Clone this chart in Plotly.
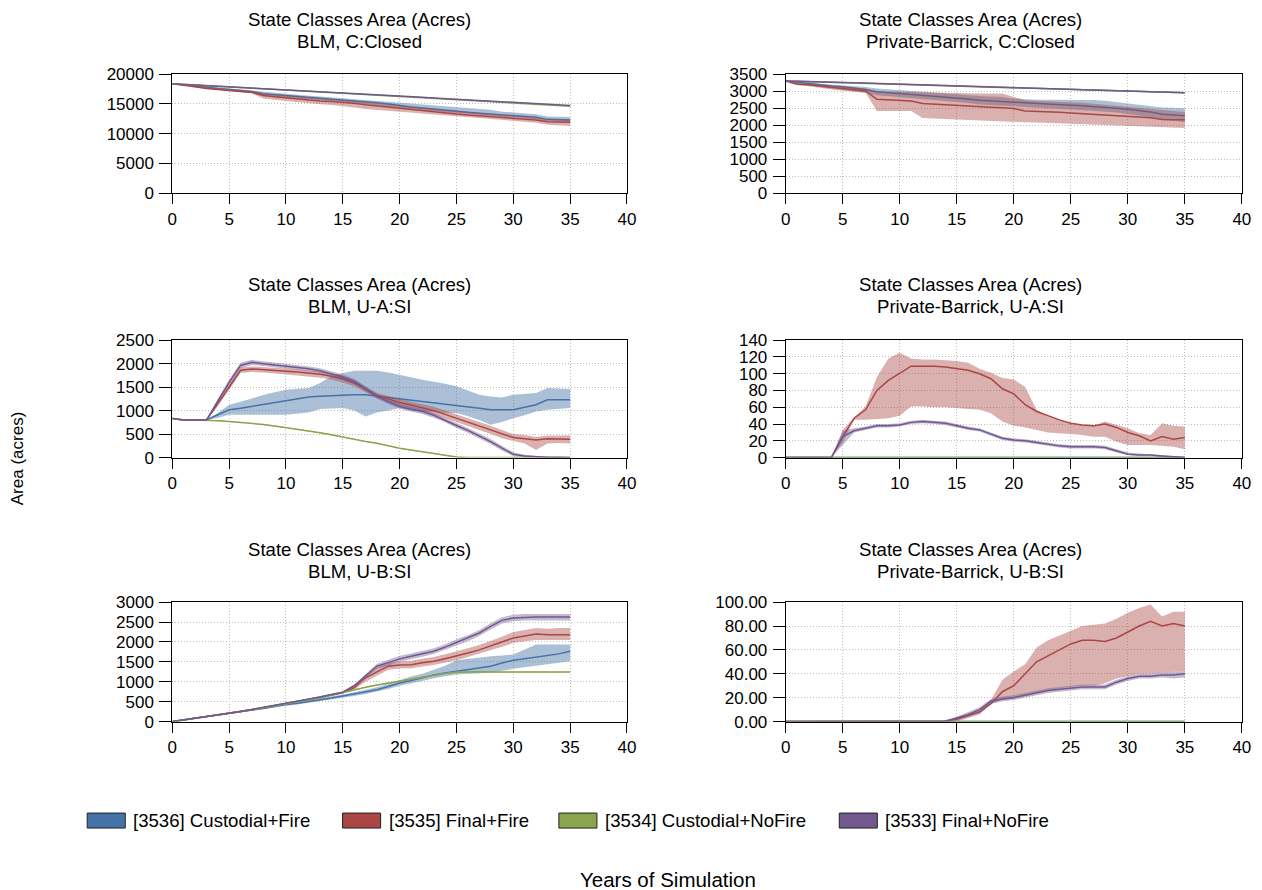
import plotly.graph_objects as go

W, H = 1262, 900
YEARS = list(range(36))

SERIES_NAMES = ["[3536] Custodial+Fire", "[3535] Final+Fire", "[3534] Custodial+NoFire", "[3533] Final+NoFire"]
SERIES_COLORS = ["#4572A7", "#AA4643", "#89A54E", "#71588F"]
BAND_COLORS = ["rgba(69,114,167,0.45)", "rgba(170,70,67,0.42)", "rgba(137,165,78,0.45)", "rgba(113,88,143,0.42)"]

ZEROS = [0] * 36

# ---------------- Panel A: BLM, C:Closed ----------------
A_blue_mean = [18400,18250,18050,17850,17600,17400,17250,17100,16700,16550,16450,16300,16150,16000,15850,15750,15600,15400,15200,15000,14700,14500,14300,14100,13900,13750,13600,13450,13300,13150,13000,12900,12750,12400,12350,12300]
A_blue_lo = [18400,18150,17900,17650,17400,17200,17000,16850,16350,16200,16100,15950,15800,15650,15500,15400,15250,15050,14850,14650,14350,14150,13950,13750,13550,13400,13250,13100,12950,12800,12650,12550,12400,12050,12000,11950]
A_blue_hi = [18400,18350,18200,18000,17800,17600,17450,17300,17000,16850,16700,16550,16400,16250,16100,16000,15850,15700,15550,15400,15250,15050,14900,14750,14600,14450,14300,14150,14000,13700,13550,13400,13250,12900,12850,12800]
A_red_mean = [18400,18200,17900,17600,17400,17250,17100,16950,16400,16200,16000,15800,15650,15500,15400,15300,15100,14850,14650,14450,14200,14000,13800,13600,13450,13300,13150,13000,12850,12700,12600,12450,12300,12000,11950,11900]
A_red_lo = [18400,18100,17750,17450,17250,17100,16950,16750,15900,15700,15500,15300,15100,14950,14800,14650,14400,14150,13950,13800,13600,13450,13300,13150,13000,12850,12700,12550,12400,12250,12150,12000,11850,11500,11400,11300]
A_red_hi = [18400,18300,18050,17800,17600,17450,17300,17150,16800,16600,16400,16250,16100,15950,15800,15700,15500,15300,15100,14900,14700,14500,14300,14100,13950,13800,13650,13500,13350,13200,13050,12900,12750,12400,12350,12300]
A_green_mean = [18400,18290,18180,18070,17970,17860,17750,17640,17530,17420,17310,17210,17100,16990,16880,16770,16660,16560,16450,16340,16230,16120,16010,15900,15800,15690,15580,15470,15360,15250,15150,15040,14930,14820,14710,14600]
A_green_lo = [18400,18250,18140,18030,17930,17820,17710,17600,17490,17380,17270,17170,17060,16950,16840,16730,16620,16520,16410,16300,16190,16080,15970,15860,15760,15650,15540,15430,15320,15210,15110,15000,14890,14780,14670,14560]
A_green_hi = [18400,18330,18220,18110,18010,17900,17790,17680,17570,17460,17350,17250,17140,17030,16920,16810,16700,16600,16490,16380,16270,16160,16050,15940,15840,15730,15620,15510,15400,15290,15190,15080,14970,14860,14750,14640]
A_purple_mean = [18400,18300,18200,18090,17990,17880,17780,17670,17570,17460,17360,17250,17150,17040,16940,16830,16730,16620,16520,16410,16310,16200,16100,15990,15890,15780,15680,15570,15470,15360,15260,15150,15050,14940,14840,14730]
A_purple_lo = [18400,18240,18140,18030,17930,17820,17720,17610,17510,17400,17300,17190,17090,16980,16880,16770,16670,16560,16460,16350,16250,16140,16040,15930,15830,15720,15620,15510,15410,15300,15200,15090,14990,14880,14780,14670]
A_purple_hi = [18400,18360,18260,18150,18050,17940,17840,17730,17630,17520,17420,17310,17210,17100,17000,16890,16790,16680,16580,16470,16370,16260,16160,16050,15950,15840,15740,15630,15530,15420,15320,15210,15110,15000,14900,14790]

# ---------------- Panel B: Private-Barrick, C:Closed ----------------
B_blue_mean = [3300,3260,3220,3180,3150,3126,3090,3047,2980,2955,2930,2905,2880,2850,2820,2800,2770,2730,2710,2690,2665,2650,2635,2620,2600,2585,2570,2550,2530,2500,2467,2430,2390,2320,2300,2280]
B_blue_lo = [3300,3220,3170,3120,3080,3050,3000,2950,2880,2850,2820,2790,2760,2730,2700,2680,2650,2610,2590,2570,2545,2530,2515,2500,2480,2460,2440,2420,2400,2370,2330,2290,2230,2150,2120,2090]
B_blue_hi = [3300,3290,3260,3220,3200,3180,3150,3120,3080,3050,3020,3000,2980,2960,2930,2910,2890,2860,2840,2830,2780,2760,2750,2750,2750,2740,2740,2740,2720,2680,2640,2600,2560,2520,2510,2500]
B_red_mean = [3300,3205,3190,3150,3110,3077,3040,3008,2762,2745,2733,2713,2634,2620,2600,2575,2560,2545,2530,2510,2487,2418,2410,2400,2380,2360,2340,2320,2300,2280,2260,2240,2220,2163,2160,2160]
B_red_lo = [3300,3180,3150,3100,3050,3020,2980,2950,2418,2418,2418,2418,2212,2200,2180,2163,2150,2140,2120,2105,2094,2085,2075,2065,2055,2045,2035,2025,2015,2000,1986,1975,1960,1940,1930,1917]
B_red_hi = [3300,3240,3220,3190,3160,3150,3120,3080,3000,2990,2980,2975,2965,2950,2940,2930,2930,2930,2930,2930,2830,2733,2720,2710,2700,2684,2660,2630,2600,2570,2536,2510,2487,2450,2420,2390]
B_green_mean = [3300,3290,3280,3270,3260,3250,3240,3230,3220,3210,3200,3190,3180,3170,3160,3150,3140,3130,3120,3110,3100,3090,3080,3070,3060,3050,3040,3030,3020,3010,3000,2990,2980,2970,2960,2950]
B_green_lo = [3300,3280,3270,3260,3250,3240,3230,3220,3210,3200,3190,3180,3170,3160,3150,3140,3130,3120,3110,3100,3090,3080,3070,3060,3050,3040,3030,3020,3010,3000,2990,2980,2970,2960,2950,2940]
B_green_hi = [3300,3300,3290,3280,3270,3260,3250,3240,3230,3220,3210,3200,3190,3180,3170,3160,3150,3140,3130,3120,3110,3100,3090,3080,3070,3060,3050,3040,3030,3020,3010,3000,2990,2980,2970,2960]
B_purple_mean = [3300,3295,3285,3275,3265,3255,3245,3235,3225,3215,3205,3195,3185,3175,3165,3155,3145,3135,3125,3115,3105,3095,3085,3075,3065,3055,3045,3035,3025,3015,3005,2995,2985,2975,2965,2955]
B_purple_lo = [3300,3275,3265,3255,3245,3235,3225,3215,3205,3195,3185,3175,3165,3155,3145,3135,3125,3115,3105,3095,3085,3075,3065,3055,3045,3035,3025,3015,3005,2995,2985,2975,2965,2955,2945,2935]
B_purple_hi = [3300,3315,3305,3295,3285,3275,3265,3255,3245,3235,3225,3215,3205,3195,3185,3175,3165,3155,3145,3135,3125,3115,3105,3095,3085,3075,3065,3055,3045,3035,3025,3015,3005,2995,2985,2975]

# ---------------- Panel C: BLM, U-A:SI ----------------
C_blue_mean = [830,800,800,800,911,1018,1050,1090,1130,1175,1217,1255,1289,1305,1317,1338,1340,1338,1310,1281,1260,1230,1196,1170,1140,1111,1080,1050,1018,1015,1018,1070,1125,1232,1232,1232]
C_blue_lo = [830,800,800,800,850,911,911,911,911,911,911,930,960,1032,1040,1054,1000,876,961,1000,1054,1000,980,960,950,947,880,800,698,760,840,900,982,1018,1040,1054]
C_blue_hi = [830,800,800,800,950,1125,1190,1267,1330,1390,1445,1465,1481,1587,1730,1800,1851,1851,1851,1810,1766,1710,1659,1620,1573,1516,1430,1338,1300,1281,1338,1360,1374,1481,1470,1460]
C_red_mean = [830,800,800,800,1150,1500,1860,1887,1875,1860,1837,1820,1801,1775,1730,1673,1587,1450,1324,1250,1175,1120,1068,1000,920,840,760,680,591,510,427,400,377,399,395,392]
C_red_lo = [830,790,790,790,1100,1440,1800,1820,1810,1795,1770,1750,1730,1700,1660,1600,1520,1390,1270,1190,1110,1050,990,920,840,760,680,590,500,410,350,300,160,300,310,300]
C_red_hi = [830,810,810,810,1200,1560,1920,1940,1930,1915,1895,1880,1860,1835,1790,1740,1650,1510,1380,1310,1240,1190,1140,1080,1000,920,850,770,680,590,500,480,440,470,470,470]
C_green_mean = [830,800,800,800,785,769,752,733,705,675,641,607,570,530,485,434,390,345,306,250,200,160,121,85,50,14,0,0,0,0,0,0,0,0,0,0]
C_green_lo = [820,790,790,790,775,759,742,723,695,665,631,597,560,520,475,424,380,335,296,240,190,150,111,75,40,5,0,0,0,0,0,0,0,0,0,0]
C_green_hi = [840,810,810,810,795,779,762,743,715,685,651,617,580,540,495,444,400,355,316,260,210,170,131,95,60,22,0,0,0,0,0,0,0,0,0,0]
C_purple_mean = [830,800,800,800,1200,1600,1960,2028,2000,1975,1944,1920,1890,1850,1790,1716,1623,1470,1303,1190,1089,1030,982,900,800,683,580,460,342,200,71,35,15,10,8,5]
C_purple_lo = [830,790,790,790,1150,1540,1900,1970,1950,1925,1895,1870,1840,1800,1740,1665,1570,1420,1250,1140,1040,980,930,850,750,630,530,410,290,150,30,10,0,0,0,0]
C_purple_hi = [830,810,810,810,1250,1660,2020,2080,2050,2025,1995,1970,1940,1900,1840,1770,1680,1520,1350,1240,1140,1080,1030,950,850,735,630,510,395,250,110,60,30,20,15,10]

# ---------------- Panel D: Private-Barrick, U-A:SI ----------------
D_red_mean = [0,0,0,0,0,25,47,57,80,92,100,109,109,109,108,106,104,100,94,82,76,63,55,50,45,41,39,38,40,36,30,26,20,25,22,24]
D_red_lo = [0,0,0,0,0,18,45,45,46,47,50,61,61,60,60,59,58,57,53,43,38,36,33,30,29,28,27,25,25,19,15,15,15,14,13,10]
D_red_hi = [0,0,0,0,0,33,48,61,96,118,125,118,117,117,116,115,113,106,101,95,93,84,57,50,45,41,39,38,43,39,35,29,27,41,38,37]
D_purple_mean = [0,0,0,0,0,25,32,35,38,38,39,42,43,42,41,38,35,33,28,23,21,20,18,16,14,13,13,13,12,8,4,3,3,2,1,0]
D_purple_lo = [0,0,0,0,0,15,30,33,36,36,37,40,41,40,39,36,33,31,26,21,19,18,16,14,12,11,11,11,10,6,3,2,2,1,0,0]
D_purple_hi = [0,0,0,0,0,32,35,37,40,40,41,44,45,44,43,40,37,35,30,25,23,22,20,18,16,15,15,15,14,10,6,5,4,3,2,1]

# ---------------- Panel E: BLM, U-B:SI ----------------
E_blue_mean = [0,40,80,120,160,205,250,290,330,380,430,460,500,545,590,640,690,740,800,880,970,1030,1100,1170,1220,1266,1310,1350,1391,1470,1541,1580,1620,1666,1700,1766]
E_blue_lo = [0,35,75,110,150,190,235,275,310,355,400,430,465,510,550,600,645,690,750,820,900,960,1020,1090,1140,1180,1200,1215,1225,1275,1325,1370,1400,1450,1480,1516]
E_blue_hi = [0,45,85,130,170,215,265,305,350,400,455,490,535,580,625,680,735,790,860,950,1050,1130,1200,1300,1400,1541,1580,1610,1641,1660,1683,1808,1933,1933,1933,1933]
E_red_mean = [0,40,80,120,165,210,255,300,350,400,450,500,555,610,670,725,850,1100,1250,1391,1420,1430,1480,1516,1580,1641,1720,1800,1900,2000,2100,2150,2200,2183,2180,2180]
E_red_lo = [0,35,75,115,160,200,245,290,340,390,440,490,540,595,650,705,800,1000,1150,1300,1330,1340,1380,1420,1480,1540,1620,1700,1790,1880,1970,2020,2050,2050,2050,2050]
E_red_hi = [0,45,85,125,170,220,265,310,360,410,460,510,570,625,690,745,900,1180,1350,1480,1510,1530,1580,1620,1690,1760,1840,1920,2020,2130,2250,2300,2350,2330,2350,2350]
E_green_mean = [0,40,80,120,160,205,250,295,340,390,440,490,540,600,660,730,800,860,920,970,1020,1070,1120,1170,1210,1240,1250,1250,1245,1245,1245,1245,1245,1245,1245,1245]
E_green_lo = [0,30,70,110,150,192,237,282,327,375,425,475,525,585,645,715,785,845,905,955,1005,1055,1105,1155,1195,1225,1235,1235,1230,1230,1230,1230,1230,1230,1230,1230]
E_green_hi = [0,50,90,130,170,218,263,308,353,405,455,505,555,615,675,745,815,875,935,985,1035,1085,1135,1185,1225,1255,1265,1265,1260,1260,1260,1260,1260,1260,1260,1260]
E_purple_mean = [0,40,80,120,165,210,255,305,355,405,455,510,565,620,680,740,900,1150,1390,1480,1575,1640,1700,1766,1870,1990,2100,2224,2391,2541,2600,2620,2625,2625,2625,2625]
E_purple_lo = [0,35,75,115,155,200,245,295,345,395,445,495,550,605,665,720,870,1100,1320,1400,1500,1570,1630,1700,1800,1910,2020,2150,2310,2460,2520,2540,2540,2540,2540,2540]
E_purple_hi = [0,45,85,125,175,220,265,315,365,415,465,525,580,635,695,760,930,1200,1450,1550,1650,1710,1770,1840,1940,2070,2170,2300,2470,2620,2680,2700,2700,2700,2700,2700]

# ---------------- Panel F: Private-Barrick, U-B:SI ----------------
F_red_mean = [0,0,0,0,0,0,0,0,0,0,0,0,0,0,0,2,5,8,15,25,30,40,50,55,60,65,68,68,67,70,75,80,84,80,82,80]
F_red_lo = [0,0,0,0,0,0,0,0,0,0,0,0,0,0,0,0,3,6,15,18,20,22,24,26,28,29,30,30,32,36,38,40,40,41,42,42]
F_red_hi = [0,0,0,0,0,0,0,0,0,0,0,0,0,0,0,3,6,10,18,35,42,48,62,68,72,76,80,81,82,86,91,95,98,88,92,92]
F_purple_mean = [0,0,0,0,0,0,0,0,0,0,0,0,0,0,0.5,3,6,10,17,19,20,22,24,26,27,28,29,29,29,33,36,38,38,39,39,40]
F_purple_lo = [0,0,0,0,0,0,0,0,0,0,0,0,0,0,0,2,4,8,15,17,18,20,22,24,25,26,27,27,27,31,34,36,36,37,36,37]
F_purple_hi = [0,0,0,0,0,0,0,0,0,0,0,0,0,0,1,4,8,12,19,21,22,24,26,28,29,30,31,31,31,35,38,40,40,41,42,42]

TITLE_LINE1 = "State Classes Area (Acres)"
PANEL_SUBTITLES = ["BLM, C:Closed", "Private-Barrick, C:Closed", "BLM, U-A:SI",
                   "Private-Barrick, U-A:SI", "BLM, U-B:SI", "Private-Barrick, U-B:SI"]
Y_RANGES = [[0, 20000], [0, 3500], [0, 2500], [0, 140], [0, 3000], [0, 100]]
Y_DTICKS = [5000, 500, 500, 20, 500, 20]
Y_FORMATS = ["d", "d", "d", "d", "d", ".2f"]
X_TICKS = [0, 5, 10, 15, 20, 25, 30, 35, 40]

PANEL_DATA = [
    [(A_blue_mean, A_blue_lo, A_blue_hi), (A_red_mean, A_red_lo, A_red_hi), (A_green_mean, A_green_lo, A_green_hi), (A_purple_mean, A_purple_lo, A_purple_hi)],
    [(B_blue_mean, B_blue_lo, B_blue_hi), (B_red_mean, B_red_lo, B_red_hi), (B_green_mean, B_green_lo, B_green_hi), (B_purple_mean, B_purple_lo, B_purple_hi)],
    [(C_blue_mean, C_blue_lo, C_blue_hi), (C_red_mean, C_red_lo, C_red_hi), (C_green_mean, C_green_lo, C_green_hi), (C_purple_mean, C_purple_lo, C_purple_hi)],
    [(ZEROS, ZEROS, ZEROS), (D_red_mean, D_red_lo, D_red_hi), (ZEROS, ZEROS, ZEROS), (D_purple_mean, D_purple_lo, D_purple_hi)],
    [(E_blue_mean, E_blue_lo, E_blue_hi), (E_red_mean, E_red_lo, E_red_hi), (E_green_mean, E_green_lo, E_green_hi), (E_purple_mean, E_purple_lo, E_purple_hi)],
    [(ZEROS, ZEROS, ZEROS), (F_red_mean, F_red_lo, F_red_hi), (ZEROS, ZEROS, ZEROS), (F_purple_mean, F_purple_lo, F_purple_hi)],
]

# ---------- layout geometry: reference pixels -> paper fractions ----------
SX, SY, OFF = 0.9875, 0.979, 8.0

def px(x):
    return (x / SX - OFF) / W

def py(y):
    return 1 - (y / SY - OFF) / H

COL_X = [(175, 629), (787.5, 1243)]
ROW_Y = [(73, 192), (339, 456.5), (601, 720.5)]
TITLE_X = [362, 972]
TITLE_Y1 = [18, 283, 548]
TITLE_Y2 = [40, 305, 570]

FONT = "Liberation Sans, Arial, sans-serif"
TICK_FONT = dict(family=FONT, size=17, color="#000000")
GRID = dict(showgrid=True, gridcolor="#bdbdbd", griddash="1px,2px", gridwidth=1)

fig = go.Figure()
layout = dict(
    width=W, height=H,
    margin=dict(l=0, r=0, t=0, b=0),
    paper_bgcolor="white", plot_bgcolor="white",
    showlegend=False,
    font=dict(family=FONT, size=17, color="#000000"),
)
annotations = []
shapes = []

for i in range(6):
    r, c = divmod(i, 2)
    xname = "x" if i == 0 else f"x{i+1}"
    yname = "y" if i == 0 else f"y{i+1}"
    xkey = "xaxis" if i == 0 else f"xaxis{i+1}"
    ykey = "yaxis" if i == 0 else f"yaxis{i+1}"
    x0, x1 = COL_X[c]
    y0, y1 = ROW_Y[r]
    layout[xkey] = dict(
        domain=[px(x0), px(x1)], anchor=yname, range=[0, 40],
        tickvals=X_TICKS, ticks="outside", ticklen=10, tickcolor="#000", tickwidth=1,
        showline=True, linecolor="#000", linewidth=1, mirror=True,
        zeroline=False, tickfont=TICK_FONT, **GRID,
    )
    layout[ykey] = dict(
        domain=[py(y1), py(y0)], anchor=xname, range=Y_RANGES[i],
        dtick=Y_DTICKS[i], tick0=0, tickformat=Y_FORMATS[i],
        ticks="outside", ticklen=12, tickcolor="#000", tickwidth=1,
        showline=True, linecolor="#000", linewidth=1, mirror=True,
        zeroline=False, tickfont=TICK_FONT, ticklabelstandoff=2, **GRID,
    )
    for txt, ty in ((TITLE_LINE1, TITLE_Y1[r]), (PANEL_SUBTITLES[i], TITLE_Y2[r])):
        annotations.append(dict(
            x=px(TITLE_X[c]), y=py(ty), xref="paper", yref="paper",
            text=txt, showarrow=False, xanchor="center", yanchor="middle",
            font=dict(family=FONT, size=18.6, color="#000"),
        ))
    for s, (mean, lo, hi) in enumerate(PANEL_DATA[i]):
        fig.add_trace(go.Scatter(
            x=YEARS + YEARS[::-1], y=list(hi) + list(lo)[::-1],
            fill="toself", fillcolor=BAND_COLORS[s], line=dict(width=0),
            mode="lines", xaxis=xname, yaxis=yname, hoverinfo="skip",
            name=SERIES_NAMES[s],
        ))
        fig.add_trace(go.Scatter(
            x=YEARS, y=mean, mode="lines",
            line=dict(color=SERIES_COLORS[s], width=1.5),
            xaxis=xname, yaxis=yname, name=SERIES_NAMES[s],
        ))

# ---------- legend (drawn) ----------
LEG_SWATCH_X = [90, 345, 561, 841]
LEG_SWATCH_W = 38
for s in range(4):
    sx = LEG_SWATCH_X[s]
    shapes.append(dict(
        type="rect", xref="paper", yref="paper",
        x0=px(sx), x1=px(sx + LEG_SWATCH_W), y0=py(827), y1=py(812),
        fillcolor=SERIES_COLORS[s], line=dict(color="#222222", width=1),
    ))
    annotations.append(dict(
        x=px(sx + LEG_SWATCH_W + 6), y=py(819), xref="paper", yref="paper",
        text=SERIES_NAMES[s], showarrow=False, xanchor="left", yanchor="middle",
        font=dict(family=FONT, size=18.6, color="#000"),
    ))

annotations.append(dict(
    x=px(670), y=py(878), xref="paper", yref="paper", text="Years of Simulation",
    showarrow=False, xanchor="center", yanchor="middle",
    font=dict(family=FONT, size=20.5, color="#000"),
))
annotations.append(dict(
    x=px(20), y=py(457), xref="paper", yref="paper", text="Area (acres)",
    showarrow=False, xanchor="center", yanchor="middle", textangle=-90,
    font=dict(family=FONT, size=17, color="#000"),
))

layout["annotations"] = annotations
layout["shapes"] = shapes
fig.update_layout(**layout)
fig.write_html("out.html")
